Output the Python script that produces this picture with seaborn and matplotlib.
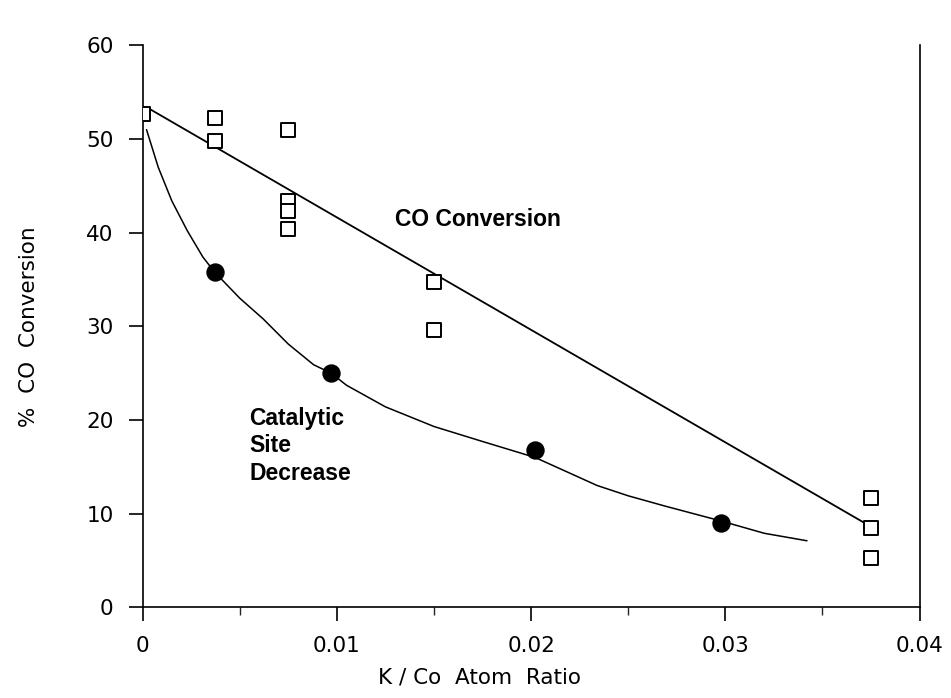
import matplotlib
matplotlib.use('Agg')
import matplotlib.pyplot as plt
import pandas as pd
import seaborn as sns
from matplotlib.ticker import MultipleLocator

# CO conversion measurements (open squares)
sq_x = [0.0, 0.0037, 0.0037, 0.0075, 0.0075, 0.0075, 0.0075, 0.015, 0.015, 0.0375, 0.0375, 0.0375]
sq_y = [52.7, 52.2, 49.8, 51.0, 43.4, 42.3, 40.4, 34.7, 29.6, 11.7, 8.5, 5.3]

# straight fit line through CO conversion
fit_x = [0.0002, 0.0375]
fit_y = [53.4, 8.6]

# catalytic site decrease (filled circles)
ci_x = [0.0037, 0.0097, 0.0202, 0.0298]
ci_y = [35.8, 25.0, 16.8, 9.0]

# hand drawn curve through the circles
cu_x = [0.0002, 0.0008, 0.0015, 0.0023, 0.0031, 0.0037, 0.0050, 0.0062, 0.0075, 0.0088,
        0.0097, 0.0105, 0.0125, 0.0150, 0.0175, 0.0202, 0.0234, 0.0250, 0.0269, 0.0298,
        0.0320, 0.0342]
cu_y = [51.0, 47.0, 43.4, 40.2, 37.4, 35.8, 33.0, 30.8, 28.1, 25.9,
        25.0, 23.7, 21.4, 19.3, 17.7, 16.0, 13.0, 11.9, 10.8, 9.2,
        7.9, 7.1]

xticks = [0, 0.01, 0.02, 0.03, 0.04]
xlabels = ['0', '0.01', '0.02', '0.03', '0.04']
yticks = [0, 10, 20, 30, 40, 50, 60]

sq = pd.DataFrame({'x': sq_x, 'y': sq_y})
ci = pd.DataFrame({'x': ci_x, 'y': ci_y})
fit = pd.DataFrame({'x': fit_x, 'y': fit_y})
cu = pd.DataFrame({'x': cu_x, 'y': cu_y})

sns.set_style('ticks')
plt.rcParams['font.family'] = ['DejaVu Sans']
plt.rcParams['text.color'] = 'black'
plt.rcParams['axes.labelcolor'] = 'black'

fig = plt.figure(figsize=(9.51, 6.98), dpi=100)
ax = fig.add_axes([0.150, 0.130, 0.817, 0.805])

sns.lineplot(data=fit, x='x', y='y', ax=ax, color='black', lw=1.3, sort=False)
sns.lineplot(data=cu, x='x', y='y', ax=ax, color='black', lw=1.1, sort=False)
sns.scatterplot(data=sq, x='x', y='y', ax=ax, marker='s', s=100,
                facecolor='white', edgecolor='black', linewidth=1.4, zorder=3)
sns.scatterplot(data=ci, x='x', y='y', ax=ax, marker='o', s=150,
                color='black', edgecolor='black', zorder=3)

ax.set_xlim(0, 0.04)
ax.set_ylim(0, 60)
ax.set_xticks(xticks)
ax.set_xticklabels(xlabels)
ax.xaxis.set_minor_locator(MultipleLocator(0.005))
ax.set_yticks(yticks)

ax.tick_params(axis='both', which='major', direction='out', length=10, width=1.2,
               labelsize=15.5, pad=11, colors='black')
ax.tick_params(axis='x', which='minor', direction='out', length=6, width=1.0)

ax.spines['top'].set_visible(False)
for s in ['left', 'bottom', 'right']:
    ax.spines[s].set_linewidth(1.2)
    ax.spines[s].set_color('black')

ax.set_xlabel('K / Co  Atom  Ratio', fontsize=15.5)
ax.xaxis.set_label_coords(0.434, -0.108)
ax.set_ylabel('%  CO  Conversion', fontsize=15.5, labelpad=34)

ax.text(0.0130, 41.4, 'CO Conversion', fontsize=16.5, fontweight='bold',
        family='Liberation Sans', va='center', ha='left')
ax.text(0.0055, 21.4, 'Catalytic\nSite\nDecrease', fontsize=16.5, fontweight='bold',
        family='Liberation Sans', va='top', ha='left', linespacing=1.25)

fig.savefig('out.png', dpi=100)
